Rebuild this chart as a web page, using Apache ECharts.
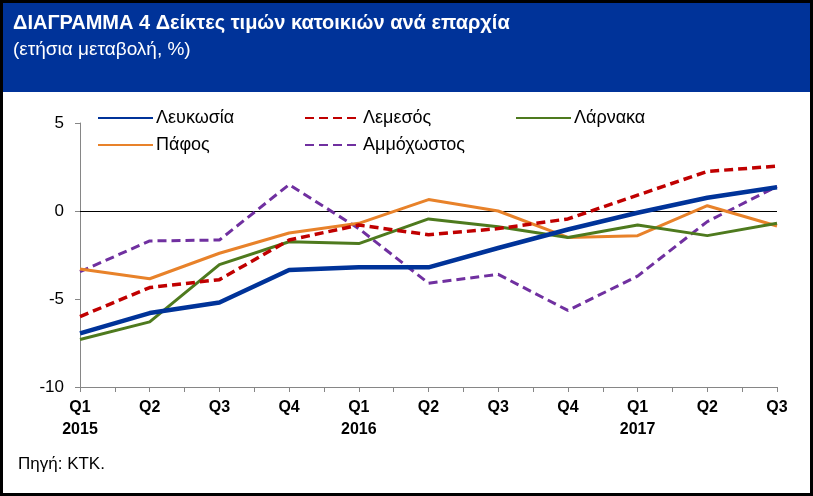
<!DOCTYPE html>
<html>
<head>
<meta charset="utf-8">
<script src="https://cdn.jsdelivr.net/npm/echarts@6/dist/echarts.min.js"></script>
<style>
html,body{margin:0;padding:0;background:#fff;}
#c{width:813px;height:496px;}
</style>
</head>
<body>
<div id="c"></div>
<script>
const quarters = ['Q1','Q2','Q3','Q4','Q1','Q2','Q3','Q4','Q1','Q2','Q3'];
const years    = ['2015','','','','2016','','','','2017','',''];
const seriesNames = ['Λευκωσία','Λεμεσός','Λάρνακα','Πάφος','Αμμόχωστος'];
const nicosia   = [-6.95,-5.8,-5.2,-3.35,-3.2,-3.2,-2.1,-1.05,-0.1,0.75,1.35];
const limassol  = [-6.0,-4.35,-3.9,-1.65,-0.8,-1.35,-1.0,-0.45,0.9,2.25,2.55];
const larnaca   = [-7.3,-6.3,-3.05,-1.75,-1.85,-0.45,-0.9,-1.5,-0.8,-1.4,-0.7];
const paphos    = [-3.3,-3.85,-2.4,-1.25,-0.7,0.65,0.0,-1.5,-1.4,0.3,-0.85];
const famagusta = [-3.45,-1.7,-1.65,1.5,-1.0,-4.1,-3.6,-5.65,-3.7,-0.6,1.4];
const yTicks = [-10,-5,0,5];

const FONT = "'Liberation Sans',Arial,sans-serif";
const toXY = arr => arr.map((v,i)=>[i,v]);

const styles = [
  {color:'#003399', width:4.5, type:'solid'},
  {color:'#C00000', width:3.5, type:[9,5]},
  {color:'#4E7A1E', width:3, type:'solid'},
  {color:'#E8822A', width:3, type:'solid'},
  {color:'#7030A0', width:3, type:[9,5]}
];
const values = [nicosia, limassol, larnaca, paphos, famagusta];

const legendPos = [
  {left:97, top:109},{left:304, top:109},{left:515, top:109},
  {left:97, top:136},{left:304, top:136}
];

const chart = echarts.init(document.getElementById('c'), null, {renderer:'canvas'});
chart.setOption({
  animation:false,
  backgroundColor:'#fff',
  graphic:[
    {type:'rect', z:-10, shape:{x:3,y:3,width:807,height:89}, style:{fill:'#003399'}},
    {type:'rect', z:100, shape:{x:1.5,y:1.5,width:810,height:493}, style:{fill:'none', stroke:'#000', lineWidth:3}}
  ],
  title:[
    {left:13, top:13, padding:0, text:'{a|ΔΙΑΓΡΑΜΜΑ 4 }{b|Δείκτες τιμών κατοικιών ανά επαρχία}',
     textStyle:{rich:{a:{fontFamily:FONT,fontSize:20,color:'#fff'},b:{fontFamily:FONT,fontSize:20,fontWeight:'bold',color:'#fff'}}}},
    {left:13, top:40, padding:0, text:'(ετήσια μεταβολή, %)', textStyle:{fontFamily:FONT,fontSize:19,fontWeight:'normal',color:'#fff'}},
    {left:18, top:456, padding:0, text:'Πηγή: ΚΤΚ.', textStyle:{fontFamily:FONT,fontSize:17,fontWeight:'normal',color:'#000'}}
  ],
  legend: seriesNames.map((n,i)=>({
    left:legendPos[i].left, top:legendPos[i].top, data:[n], padding:0,
    itemWidth:55, itemHeight:14, itemGap:0,
    itemStyle:{opacity:0},
    textStyle:{fontFamily:FONT,fontSize:18,color:'#000', padding:[0,0,0,-2]}
  })),
  grid:{left:80,right:36,top:123,bottom:109,containLabel:false},
  xAxis:{
    type:'value', min:0, max:quarters.length-1, interval:1,
    axisLine:{show:true,onZero:false,lineStyle:{color:'#868686',width:1}},
    axisTick:{show:true,length:5,lineStyle:{color:'#868686'}},
    minorTick:{show:true,splitNumber:2,length:5,lineStyle:{color:'#868686'}},
    splitLine:{show:false},
    axisLabel:{margin:10, color:'#000', fontFamily:FONT, fontWeight:'bold', fontSize:16, lineHeight:22,
      formatter:(v)=>{const i=Math.round(v); return years[i]?quarters[i]+'\n'+years[i]:quarters[i];}}
  },
  yAxis:{
    type:'value', min:yTicks[0], max:yTicks[yTicks.length-1], interval:5,
    axisLine:{show:true,lineStyle:{color:'#868686',width:1}},
    axisTick:{show:true,length:5,lineStyle:{color:'#868686'}},
    splitLine:{show:false},
    axisLabel:{margin:16,color:'#000',fontFamily:FONT,fontSize:17}
  },
  series: seriesNames.map((n,i)=>{
    const s = {
      name:n, type:'line', symbol:'none', smooth:false, z:10-i,
      data:toXY(values[i]),
      lineStyle:{color:styles[i].color,width:styles[i].width,type:styles[i].type,cap:'butt'},
      itemStyle:{color:styles[i].color}
    };
    if(i===0){
      s.markLine={silent:true,symbol:'none',label:{show:false},animation:false,
        lineStyle:{color:'#000',width:1,type:'solid'},data:[{yAxis:0}]};
    }
    return s;
  })
});
</script>
</body>
</html>
